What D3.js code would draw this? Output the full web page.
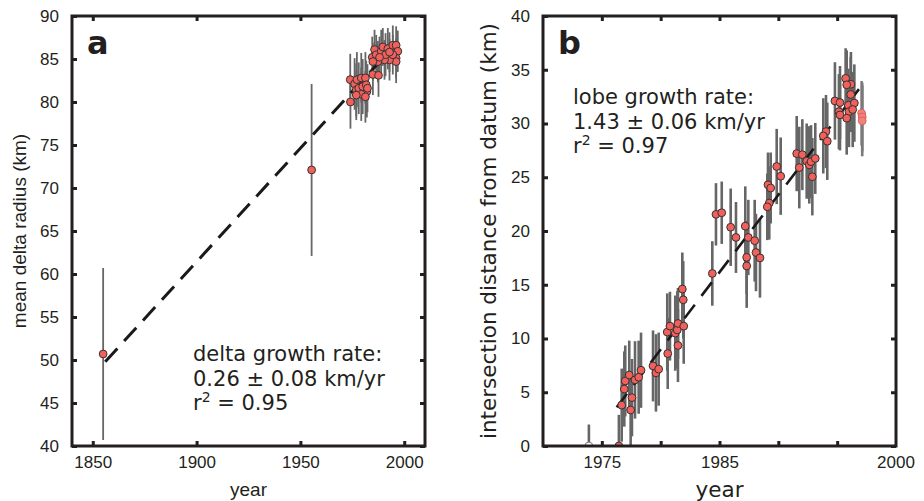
<!DOCTYPE html>
<html lang="en">
<head>
<meta charset="UTF-8">
<title>Delta and lobe growth</title>
<script src="https://cdn.jsdelivr.net/npm/d3@7"></script>
<style>
    html, body { margin: 0; padding: 0; background: #fff; }
    svg { display: block; }
    .tick text { font-family: "Liberation Sans", Arial, sans-serif; font-size: 17px; fill: #231f20; }
    .note { font-family: "DejaVu Sans", sans-serif; font-size: 21px; fill: #231f20; }
    .panel-letter { font-family: "DejaVu Sans", sans-serif; font-size: 32px; font-weight: bold; fill: #231f20; }
</style>
</head>
<body>
<svg id="chart" width="924" height="501"></svg>
<script>
// ---- panel a: mean delta radius ----
const yearsA = [1855, 1955.4,
    1974.1, 1974.0, 1976.1, 1977.2, 1979.3, 1981.3, 1976.9, 1978.1, 1980.0, 1981.7,
    1982.0, 1979.3, 1976.9, 1981.3, 1982.3,
    1984.9, 1987.6, 1985.7, 1984.6, 1986.5, 1988.9, 1989.7, 1992.1, 1994.5, 1996.1,
    1996.9, 1996.1, 1996.1, 1992.9, 1990.5, 1987.3, 1984.9, 1994.5, 1991.0, 1988.1, 1992.9];
const radiusA = [50.7, 72.1,
    80.0, 82.6, 82.1, 82.6, 82.8, 82.8, 81.4, 81.6, 81.8, 82.0,
    81.2, 80.9, 80.8, 80.6, 81.6,
    83.2, 83.1, 86.1, 85.2, 85.5, 85.9, 86.4, 86.2, 86.6, 86.6,
    85.9, 85.1, 84.7, 84.9, 84.9, 84.7, 84.7, 85.5, 85.5, 85.2, 85.8];
const errA = [10, 10,
    3.1, 3.0, 3.0, 3.2, 2.9, 3.0, 3.1, 3.0, 3.2, 2.8,
    3.0, 3.1, 2.9, 3.0, 2.8,
    2.4, 2.5, 2.3, 2.4, 2.3, 2.5, 2.2, 2.4, 2.3, 2.2,
    2.4, 2.3, 2.5, 2.4, 2.3, 2.4, 2.2, 2.3, 2.5, 2.4, 2.3];
const fitA = [[1856, 49.8], [1995, 86.5]];
const xTicksA = [1850, 1900, 1950, 2000];
const yTicksA = [40, 45, 50, 55, 60, 65, 70, 75, 80, 85, 90];

// ---- panel b: lobe intersection distance ----
const yearsB = [1973.9, 1976.45, 1976.69, 1977.45, 1977.56, 1976.91, 1976.99, 1977.33, 1977.82, 1978.13,
    1978.33, 1979.35, 1979.60, 1979.83, 1980.60, 1980.56, 1980.79, 1981.24, 1981.41, 1981.47,
    1981.96, 1981.47, 1981.92, 1981.84, 1984.39, 1984.70, 1985.19, 1985.95, 1986.40, 1987.19,
    1987.45, 1987.99, 1987.31, 1987.31, 1988.10, 1988.44, 1989.12, 1989.35, 1989.23, 1989.06,
    1989.86, 1990.20, 1991.56, 1992.04, 1991.78, 1992.41, 1992.63, 1992.78, 1993.14, 1992.89,
    1994.05, 1993.82, 1994.16, 1994.81, 1995.24, 1995.15, 1995.24, 1995.72, 1996.17, 1995.81,
    1996.15, 1995.95, 1996.46, 1996.00, 1996.32, 1995.81, 1997.08, 1997.13, 1997.13];
const distB = [0.0, 0.0, 3.8, 3.35, 4.5, 5.3, 6.05, 6.6, 6.15, 6.4,
    7.05, 7.45, 6.8, 7.15, 8.6, 10.6, 11.15, 10.5, 10.8, 11.4,
    11.15, 9.35, 13.6, 14.6, 16.05, 21.55, 21.7, 20.35, 19.4, 20.45,
    19.4, 19.1, 17.55, 16.75, 18.0, 17.5, 24.3, 24.0, 22.6, 22.25,
    26.0, 25.1, 27.2, 27.1, 25.9, 26.5, 26.15, 26.45, 26.75, 25.05,
    29.25, 28.85, 28.35, 32.1, 31.95, 31.1, 30.8, 34.2, 33.65, 33.6,
    32.7, 31.7, 31.9, 31.1, 31.3, 30.5, 30.95, 30.6, 30.25];
const errB = [2.0, 2.9, 3.4, 3.3, 3.6, 3.5, 3.3, 3.2, 3.6, 3.4,
    3.5, 3.3, 3.6, 3.4, 3.3, 3.6, 3.2, 3.5, 3.6, 3.3,
    3.5, 3.4, 3.6, 3.4, 3.0, 2.9, 2.9, 3.6, 3.3, 3.7,
    3.5, 3.8, 3.4, 3.9, 3.6, 3.7, 3.0, 3.3, 3.4, 3.1,
    3.5, 3.6, 3.5, 3.3, 3.8, 3.5, 3.6, 3.4, 3.3, 3.6,
    3.4, 3.5, 3.6, 3.6, 3.4, 3.5, 3.3, 2.8, 3.0, 3.2,
    3.5, 3.4, 3.6, 3.3, 3.5, 3.4, 3.0, 3.2, 3.3];
// 0 = open circle, 1 = normal, 2 = faded (excluded from fit)
const kindB = [0, 1, 1, 1, 1, 1, 1, 1, 1, 1,
    1, 1, 1, 1, 1, 1, 1, 1, 1, 1,
    1, 1, 1, 1, 1, 1, 1, 1, 1, 1,
    1, 1, 1, 1, 1, 1, 1, 1, 1, 1,
    1, 1, 1, 1, 1, 1, 1, 1, 1, 1,
    1, 1, 1, 1, 1, 1, 1, 1, 1, 1,
    1, 1, 1, 1, 1, 1, 2, 2, 2];
const fitB = [[1976.26, 3.6], [1996.85, 33.2]];
const xTicksB = [1975, 1980, 1985, 1990, 1995];
const xLabelsB = [1975, 1985, 2000];
const yTicksB = [0, 5, 10, 15, 20, 25, 30, 35, 40];

const svg = d3.select('#chart');

function drawPanel(opt) {
    const w = opt.x1 - opt.x0, h = opt.y1 - opt.y0;
    const g = svg.append('g').attr('transform', `translate(${opt.x0},${opt.y0})`);

    const x = d3.scaleLinear().domain(opt.xDomain).range([0, w]);
    const y = d3.scaleLinear().domain(opt.yDomain).range([h, 0]);

    const clipId = 'clip-' + opt.name;
    g.append('clipPath').attr('id', clipId)
        .append('rect').attr('width', w).attr('height', h);

    const plot = g.append('g').attr('clip-path', `url(#${clipId})`);

    const pts = opt.years.map((yr, i) => ({ yr, v: opt.vals[i], e: opt.errs[i], k: opt.kinds ? opt.kinds[i] : 1 }));

    // error bars
    plot.selectAll('.err').data(pts).enter().append('line')
        .attr('x1', d => x(d.yr)).attr('x2', d => x(d.yr))
        .attr('y1', d => y(d.v - d.e)).attr('y2', d => y(d.v + d.e))
        .attr('stroke', d => d.k === 2 ? '#7a7a7a' : '#666')
        .attr('stroke-width', opt.errWidth);

    // fit line
    plot.append('path')
        .datum(opt.fit)
        .attr('d', d3.line().x(d => x(d[0])).y(d => y(d[1])))
        .attr('fill', 'none')
        .attr('stroke', '#1a1a1a')
        .attr('stroke-width', opt.fitWidth)
        .attr('stroke-dasharray', opt.dash);

    // points
    plot.selectAll('.pt').data(pts).enter().append('circle')
        .attr('cx', d => x(d.yr)).attr('cy', d => y(d.v))
        .attr('r', 3.9)
        .attr('fill', d => d.k === 0 ? '#fff' : (d.k === 2 ? '#f47f7b' : '#f2605c'))
        .attr('stroke', d => d.k === 0 ? '#777' : (d.k === 2 ? '#d9625e' : '#333'))
        .attr('stroke-width', 1);

    // axes, ticks pointing inward
    const yl = g.append('g')
        .call(d3.axisLeft(y).tickValues(opt.yTicks).tickSizeInner(-5).tickSizeOuter(0).tickPadding(13));
    const yr = g.append('g').attr('transform', `translate(${w},0)`)
        .call(d3.axisRight(y).tickValues(opt.yTicks).tickSizeInner(-5).tickSizeOuter(0).tickFormat(''));
    const xb = g.append('g').attr('transform', `translate(0,${h})`)
        .call(d3.axisBottom(x).tickValues(opt.xTicks).tickSizeInner(-5).tickSizeOuter(0).tickPadding(10)
            .tickFormat(d => opt.xLabels.includes(d) ? d : ''));
    const xt = g.append('g')
        .call(d3.axisTop(x).tickValues(opt.xTicks).tickSizeInner(-5).tickSizeOuter(0).tickFormat(''));
    [yl, yr, xb, xt].forEach(a => {
        a.select('.domain').remove();
        a.selectAll('.tick line').attr('stroke', '#231f20').attr('stroke-width', 3);
    });

    // extra labels that do not sit on a tick (e.g. 2000 at the frame edge)
    opt.xLabels.filter(v => !opt.xTicks.includes(v)).forEach(v => {
        g.append('text')
            .attr('x', x(v)).attr('y', h + 10).attr('dy', '0.71em')
            .attr('text-anchor', 'middle')
            .style('font-family', '"Liberation Sans", Arial, sans-serif')
            .style('font-size', '17px').style('fill', '#231f20')
            .text(v);
    });

    // frame
    g.append('rect').attr('width', w).attr('height', h)
        .attr('fill', 'none').attr('stroke', '#231f20').attr('stroke-width', 3);

    // panel letter
    g.append('text').attr('class', 'panel-letter')
        .attr('x', opt.letterX).attr('y', opt.letterY).text(opt.name);

    // annotation
    const note = g.append('text').attr('class', 'note');
    opt.note.forEach((line, i) => {
        const t = note.append('tspan').attr('x', opt.noteX).attr('y', opt.noteY + i * 24.5);
        if (i === 2) {
            t.text('r');
            t.append('tspan').attr('dy', -8).style('font-size', '14px').text('2');
            t.append('tspan').attr('dy', 8).text(' = ' + line);
        } else {
            t.text(line);
        }
    });

    // axis titles
    g.append('text')
        .attr('x', w / 2).attr('y', opt.xTitleY)
        .attr('text-anchor', 'middle')
        .style('font-family', opt.titleFont).style('font-size', opt.titleSize).style('fill', '#231f20')
        .text('year');
    g.append('text')
        .attr('transform', `translate(${opt.yTitleX},${h / 2}) rotate(-90)`)
        .attr('text-anchor', 'middle')
        .style('font-family', opt.titleFont).style('font-size', opt.titleSize).style('fill', '#231f20')
        .text(opt.yTitle);
}

drawPanel({
    name: 'a', x0: 72, x1: 425, y0: 16, y1: 446,
    xDomain: [1840, 2010], yDomain: [40, 90],
    years: yearsA, vals: radiusA, errs: errA, fit: fitA,
    xTicks: xTicksA, xLabels: xTicksA, yTicks: yTicksA,
    errWidth: 1.8, fitWidth: 3, dash: '18,10',
    letterX: 15, letterY: 38,
    note: ['delta growth rate:', '0.26 \u00b1 0.08 km/yr', '0.95'], noteX: 121, noteY: 345,
    xTitleY: 480, yTitleX: -46, yTitle: 'mean delta radius (km)',
    titleFont: '"Liberation Sans", Arial, sans-serif', titleSize: '19px'
});

drawPanel({
    name: 'b', x0: 543, x1: 896, y0: 16, y1: 446,
    xDomain: [1970, 2000], yDomain: [0, 40],
    years: yearsB, vals: distB, errs: errB, kinds: kindB, fit: fitB,
    xTicks: xTicksB, xLabels: xLabelsB, yTicks: yTicksB,
    errWidth: 2.6, fitWidth: 2.6, dash: '17,11',
    letterX: 15, letterY: 38,
    note: ['lobe growth rate:', '1.43 \u00b1 0.06 km/yr', '0.97'], noteX: 30, noteY: 88,
    xTitleY: 481, yTitleX: -47, yTitle: 'intersection distance from datum (km)',
    titleFont: '"DejaVu Sans", sans-serif', titleSize: '21.5px'
});
</script>
</body>
</html>
